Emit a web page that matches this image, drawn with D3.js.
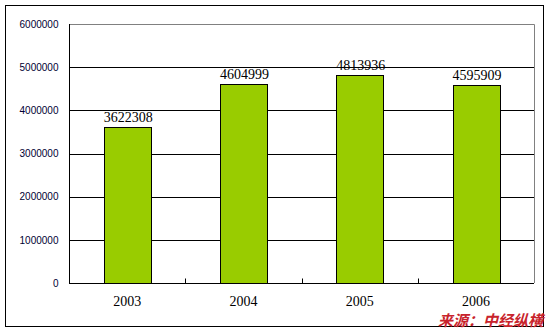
<!DOCTYPE html>
<html lang="zh">
<head>
<meta charset="UTF-8">
<script src="https://d3js.org/d3.v7.min.js"></script>
<style>
  body { margin: 0; background: #ffffff; }
  .ylab { font-family: "Liberation Sans", Arial, sans-serif; font-size: 10px; fill: #000033; }
  .xlab, .vlab { font-family: "Liberation Serif", "Times New Roman", serif; font-size: 14px; fill: #000000; }
  .src { font-family: "Noto Sans CJK SC", sans-serif; font-size: 15px; font-weight: bold; font-style: italic; fill: #c8232c; }
</style>
</head>
<body>
<div id="chart"></div>
<script>
  // 数据
  const years = ["2003", "2004", "2005", "2006"];
  const values = [3622308, 4604999, 4813936, 4595909];
  const yTicks = [0, 1000000, 2000000, 3000000, 4000000, 5000000, 6000000];

  const W = 551, H = 333;
  const plot = { left: 69, right: 534, top: 24, bottom: 283 };

  const svg = d3.select("#chart").append("svg")
    .attr("width", W).attr("height", H);

  // 外框
  svg.append("rect")
    .attr("x", 5.5).attr("y", 5.5)
    .attr("width", 538).attr("height", 321)
    .attr("fill", "#fff").attr("stroke", "#000").attr("stroke-width", 1);

  const x = d3.scaleBand().domain(years).range([plot.left, plot.right]).paddingInner(0).paddingOuter(0);
  const y = d3.scaleLinear().domain([0, 6000000]).range([plot.bottom, plot.top]);

  // 网格线
  svg.append("g").selectAll("line").data(yTicks.slice(1, -1)).join("line")
    .attr("x1", plot.left).attr("x2", plot.right)
    .attr("y1", d => Math.round(y(d)) + 0.5).attr("y2", d => Math.round(y(d)) + 0.5)
    .attr("stroke", "#000");

  // 绘图区上、右边框
  svg.append("path")
    .attr("d", `M${plot.left},${plot.top + 0.5}H${plot.right + 0.5}V${plot.bottom}`)
    .attr("fill", "none").attr("stroke", "#808080");

  // 柱
  const bw = x.bandwidth() * 0.4;
  svg.append("g").selectAll("rect").data(values).join("rect")
    .attr("x", (d, i) => Math.round(x(years[i]) + (x.bandwidth() - bw) / 2) + 0.5)
    .attr("y", d => Math.round(y(d)) + 0.5)
    .attr("width", Math.round(bw))
    .attr("height", d => Math.round(y(0)) - Math.round(y(d)))
    .attr("fill", "#99cc00").attr("stroke", "#000");

  // 数值标签
  svg.append("g").selectAll("text").data(values).join("text")
    .attr("class", "vlab")
    .attr("x", (d, i) => x(years[i]) + x.bandwidth() / 2 + 1)
    .attr("y", d => y(d) - 5)
    .attr("text-anchor", "middle")
    .text(d => d);

  // Y 轴
  const yAxis = d3.axisLeft(y).tickValues(yTicks).tickSize(0).tickPadding(11).tickFormat(d => d);
  const gy = svg.append("g").attr("transform", `translate(${plot.left + 0.5},0)`).call(yAxis);
  gy.select(".domain").attr("stroke", "#000").attr("d", `M0,${plot.top}V${plot.bottom}`);
  gy.selectAll("text").attr("class", "ylab").attr("font-family", null).attr("font-size", null).attr("fill", null);

  // X 轴
  const xAxis = d3.axisBottom(x).tickSize(0).tickPadding(13);
  const gx = svg.append("g").attr("transform", `translate(0,${plot.bottom + 0.5})`).call(xAxis);
  gx.select(".domain").attr("stroke", "#000").attr("d", `M${plot.left},0H${plot.right}`);
  gx.selectAll("text").attr("class", "xlab").attr("font-family", null).attr("font-size", null).attr("fill", null);
  // 类别间刻度（向内）
  gx.append("g").selectAll("line").data(years.slice(1)).join("line")
    .attr("x1", d => Math.round(x(d)) + 0.5).attr("x2", d => Math.round(x(d)) + 0.5)
    .attr("y1", 0).attr("y2", -5).attr("stroke", "#000");

  // 来源
  svg.append("text").attr("class", "src")
    .attr("x", 543).attr("y", 326).attr("text-anchor", "end")
    .text("来源：中经纵横");
</script>
</body>
</html>
